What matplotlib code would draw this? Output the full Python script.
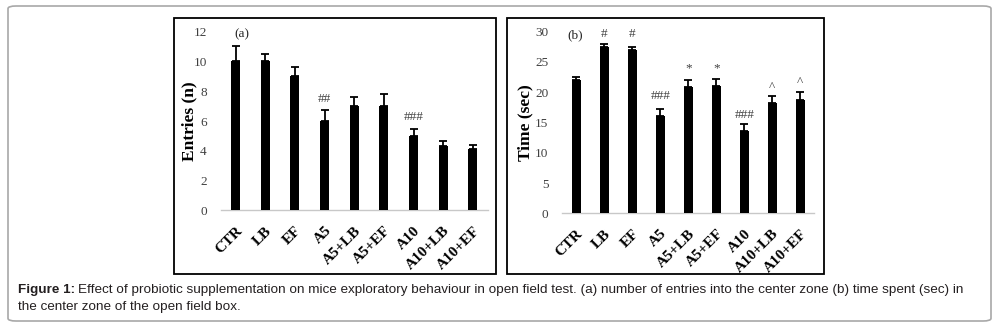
import matplotlib
matplotlib.use("Agg")
import matplotlib.pyplot as plt
from matplotlib.patches import Rectangle, FancyBboxPatch

groups = ["CTR", "LB", "EF", "A5", "A5+LB", "A5+EF", "A10", "A10+LB", "A10+EF"]
entries = [10.0, 10.0, 9.0, 6.0, 7.0, 7.0, 5.0, 4.3, 4.1]
entries_err = [1.05, 0.52, 0.65, 0.73, 0.58, 0.8, 0.45, 0.35, 0.27]
entries_marks = ["", "", "", "##", "", "", "###", "", ""]
entries_mark_y = [None, None, None, 7.5, None, None, 6.25, None, None]

time_sec = [22.0, 27.45, 27.0, 16.0, 20.9, 21.1, 13.55, 18.2, 18.7]
time_err = [0.45, 0.5, 0.4, 1.3, 1.05, 1.05, 1.15, 1.2, 1.3]
time_marks = ["", "#", "#", "###", "*", "*", "###", "^", "^"]
time_mark_y = [None, 29.7, 29.7, 19.3, 23.9, 23.9, 16.2, 20.9, 21.7]

W, H = 998, 327
fig = plt.figure(figsize=(W / 100, H / 100), dpi=100)

serif = ["Liberation Serif", "DejaVu Serif"]
sans = ["Liberation Sans", "DejaVu Sans"]

# outer rounded frame
fig.patches.append(FancyBboxPatch((8 / W, 1 - 321 / H), 983 / W, 315 / H,
                                  boxstyle="round,pad=0,rounding_size=0.008",
                                  transform=fig.transFigure, fill=False,
                                  edgecolor="#a8a8a8", linewidth=1.2))
# panel frames
for (x0, x1) in [(174, 496), (507, 824)]:
    fig.patches.append(Rectangle((x0 / W, 1 - 274 / H), (x1 - x0) / W, (274 - 18) / H,
                                 transform=fig.transFigure, fill=False,
                                 edgecolor="black", linewidth=1.3))


def panel(rect, vals, errs, marks, mark_y, ymax, step, ylabel, lpad, tag, tag_x, tag_y):
    ax = fig.add_axes(rect)
    x = list(range(len(groups)))
    ax.bar(x, vals, width=0.31, color="black", zorder=3)
    ax.errorbar(x, vals, yerr=[[0] * len(errs), errs], fmt="none", ecolor="black",
                elinewidth=1.3, capsize=3.2, capthick=1.3, zorder=4)
    ax.set_xlim(-0.5, len(groups) - 0.5)
    ax.set_ylim(0, ymax)
    ax.set_yticks(range(0, ymax + 1, step))
    for s in ["top", "right", "left"]:
        ax.spines[s].set_visible(False)
    ax.spines["bottom"].set_color("#c8c8c8")
    ax.spines["bottom"].set_linewidth(1.0)
    ax.tick_params(axis="both", length=0)
    ax.tick_params(axis="y", pad=10, labelcolor="#404040", labelsize=9.5)
    for t in ax.get_yticklabels():
        t.set_family(serif)
    ax.set_xticks(x)
    ax.set_xticklabels(groups, rotation=45, ha="right", rotation_mode="anchor",
                       family=serif, fontweight="bold", fontsize=11)
    ax.tick_params(axis="x", pad=10)
    ax.set_ylabel(ylabel, family=serif, fontweight="bold", fontsize=12.5, labelpad=lpad)
    for xi, m, my in zip(x, marks, mark_y):
        if m:
            ax.text(xi, my, m, ha="center", va="center", family=serif,
                    fontsize=9.5, color="#404040")
    ax.text(tag_x, tag_y, tag, ha="center", va="center", family=serif,
            fontsize=9.5, color="#262626")
    return ax


panel([220.7 / W, 1 - 210.3 / H, 267 / W, (210.3 - 31.7) / H],
      entries, entries_err, entries_marks, entries_mark_y, 12, 2,
      "Entries (n)", -3, "(a)", 0.22, 11.85)
panel([562.3 / W, 1 - 213.3 / H, 252 / W, (213.3 - 31.7) / H],
      time_sec, time_err, time_marks, time_mark_y, 30, 5,
      "Time (sec)", 1, "(b)", -0.05, 29.45)

cap_fs = 9.7
t1 = fig.text(18 / W, 1 - 290 / H, "Figure 1:", family=sans, fontweight="bold",
              fontsize=cap_fs, color="#231f20", va="center", ha="left")
fig.canvas.draw()
bb = t1.get_window_extent()
fig.text((bb.x1 + 3) / W, 1 - 290 / H,
         "Effect of probiotic supplementation on mice exploratory behaviour in open field test. (a) number of entries into the center zone (b) time spent (sec) in",
         family=sans, fontsize=cap_fs, color="#231f20", va="center", ha="left")
fig.text(18 / W, 1 - 307 / H, "the center zone of the open field box.",
         family=sans, fontsize=cap_fs, color="#231f20", va="center", ha="left")

fig.savefig("out.png", dpi=100)
